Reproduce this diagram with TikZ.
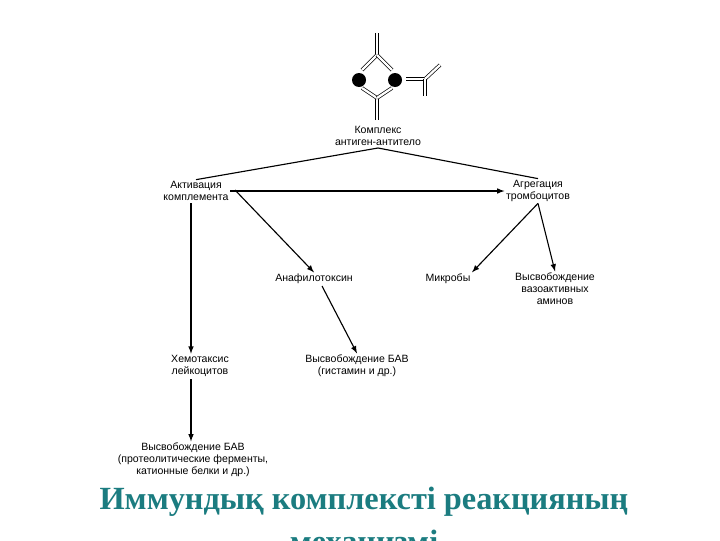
\documentclass[tikz,border=0pt]{standalone}
\usepackage{fontspec}
\setmainfont{Liberation Sans}
\newfontfamily\titlefont{Liberation Serif}
\definecolor{teal1}{HTML}{1B7C80}
\begin{document}
\begin{tikzpicture}[x=0.025cm,y=-0.025cm,
  lbl/.style={font=\fontsize{7.5}{8.5}\selectfont,align=center,inner sep=1pt},
  arr/.style={-latex,thick},
  ab/.style={double,double distance=1.6pt,line width=0.5pt}]
\useasboundingbox (0,0) rectangle (720,540);
% antibodies
\draw[ab] (377,33) -- (377,55);
\draw[ab] (377,55) -- (362,70);
\draw[ab] (377,55) -- (392,70);
\draw[ab] (377,120) -- (377,98);
\draw[ab] (377,98) -- (362,88);
\draw[ab] (377,98) -- (392,88);
\fill (359,80) circle (7);
\fill (395,80) circle (7);
\draw[ab] (406,79) -- (425,79);
\draw[ab] (425,79) -- (440,65);
\draw[ab] (425,79) -- (425,96);
% nodes
\node[lbl] (cx) at (378,136) {Комплекс\\антиген-антитело};
\node[lbl] (ak) at (196,191) {Активация\\комплемента};
\node[lbl] (ag) at (538,191) {Агрегация\\тромбоцитов};
\node[lbl] (an) at (314,279) {Анафилотоксин};
\node[lbl] (mi) at (448,279) {Микробы};
\node[lbl] (va) at (555,289) {Высвобождение\\вазоактивных\\аминов};
\node[lbl] (hx) at (200,366) {Хемотаксис\\лейкоцитов};
\node[lbl] (bv) at (357,366) {Высвобождение БАВ\\(гистамин и др.)};
\node[lbl] (bp) at (193,460) {Высвобождение БАВ\\(протеолитические ферменты,\\катионные белки и др.)};
% connectors
\coordinate (c1) at (378,148);
\coordinate (k0) at (191,203);
\coordinate (k1) at (191,379);
\coordinate (a0) at (235,190);
\coordinate (a1) at (322,286);
\draw[thick] (c1) -- (ak.north);
\draw[thick] (c1) -- (ag.north);
\draw[arr] (ak.east) -- (ag.west);
\draw[arr] (a0) -- (an.north);
\draw[arr] (ag.south) -- (mi.north east);
\draw[arr] (ag.south) -- (va.north);
\draw[arr] (k0) -- (k0 |- hx.north);
\draw[arr] (k1) -- (k1 |- bp.north);
\draw[arr] (a1) -- (bv.north);
% title
\node[teal1,font=\titlefont\bfseries\fontsize{23}{30}\selectfont,align=center] (t) at (364,520) {Иммундық комплексті реакцияның\\механизмі};
\end{tikzpicture}
\end{document}
